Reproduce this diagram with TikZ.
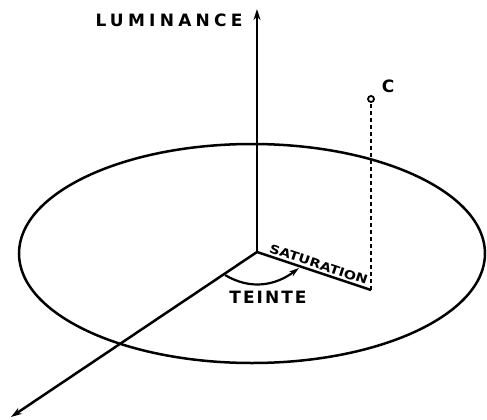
\documentclass[tikz,border=0pt]{standalone}
\usepackage{fontspec}
\setmainfont{DejaVu Sans}
\usetikzlibrary{arrows.meta}
\begin{document}
\begin{tikzpicture}[x=1pt,y=-1pt,
  axisline/.style={line width=2.5pt,-{Stealth[length=11pt,width=7pt]}},
  plainline/.style={line width=2.5pt},
  dashline/.style={line width=2.8pt,dash pattern=on 4.5pt off 2.5pt},
  lettering/.style={font=\fontsize{17}{17}\selectfont\bfseries\addfontfeatures{LetterSpace=25}},
  tlettering/.style={font=\fontsize{17}{17}\selectfont\bfseries\addfontfeatures{LetterSpace=12}},
  smalllettering/.style={font=\fontsize{12}{12}\selectfont\bfseries}]
\useasboundingbox (0,0) rectangle (487,420);
\coordinate (O) at (257,252);
\coordinate (top) at (257,9);
\coordinate (tip) at (11,417);
\coordinate (S) at (371,290);
\coordinate (h1) at (225,275);
\coordinate (h2) at (299,268);
\node[circle,draw,line width=1.8pt,inner sep=0pt,minimum size=6pt] (C) at (371,99) {};
\draw[plainline] (252,253.5) ellipse [x radius=233, y radius=109.5];
\draw[axisline] (O) -- (top);
\draw[axisline] (O) -- (tip);
\draw[plainline] (O) -- (S) node[pos=0.52,above,sloped,smalllettering,inner sep=2pt] {\scalebox{1.2}[1]{SATURATION}};
\draw[dashline] (S) -- (C.south);
\draw[line width=2.2pt,-{Stealth[length=10pt,width=6pt]}] (h1) .. controls (250,290) and (275,286) .. (h2);
\node[lettering,anchor=center] (lum) at (169,20) {LUMINANCE};
\node[tlettering] (teinte) at (268,297) {TEINTE};
\node[tlettering] (clab) at (388,86) {C};
\end{tikzpicture}
\end{document}
